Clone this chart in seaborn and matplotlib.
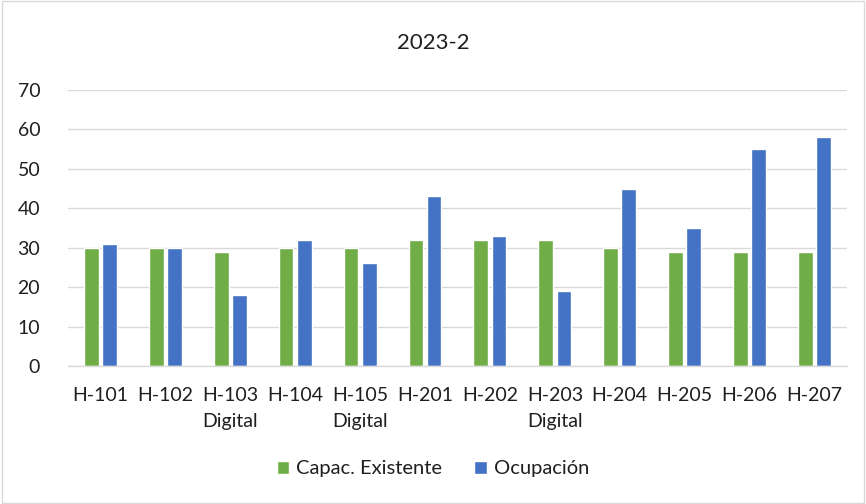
import matplotlib
matplotlib.use("Agg")
import matplotlib.pyplot as plt
import seaborn as sns
import pandas as pd

categories = ["H-101", "H-102", "H-103\nDigital", "H-104", "H-105\nDigital", "H-201",
              "H-202", "H-203\nDigital", "H-204", "H-205", "H-206", "H-207"]
capacidad = [30, 30, 29, 30, 30, 32, 32, 32, 30, 29, 29, 29]
ocupacion = [31, 30, 18, 32, 26, 43, 33, 19, 45, 35, 55, 58]
series_names = ["Capac. Existente", "Ocupación"]
colors = ["#70AD47", "#4472C4"]
title = "2023-2"
yticks = [0, 10, 20, 30, 40, 50, 60, 70]

df = pd.DataFrame({
    "Aula": categories * 2,
    "Valor": capacidad + ocupacion,
    "Serie": [series_names[0]] * len(categories) + [series_names[1]] * len(categories),
})

sns.set_theme(style="white")
plt.rcParams["font.family"] = ["Lato", "DejaVu Sans"]
txt_color = "#1f1f1f"

fig = plt.figure(figsize=(8.66, 5.04), dpi=100)
ax = fig.add_axes([0.0785, 0.2738, 0.8995, 0.5476])

sns.barplot(data=df, x="Aula", y="Valor", hue="Serie", palette=colors,
            width=0.56, gap=0.19, ax=ax, saturation=1, legend=True)

ax.set_ylim(0, 70)
ax.set_yticks(yticks)
ax.set_xlim(-0.5, len(categories) - 0.5)
ax.set_xlabel("")
ax.set_ylabel("")
ax.yaxis.grid(True, color="#D9D9D9", linewidth=1)
ax.set_axisbelow(True)
for s in ["left", "right", "top"]:
    ax.spines[s].set_visible(False)
ax.spines["bottom"].set_color("#D9D9D9")
ax.spines["bottom"].set_linewidth(1)
ax.tick_params(axis="both", length=0, labelsize=14, colors=txt_color)
ax.tick_params(axis="x", pad=15)
ax.tick_params(axis="y", pad=20)
for lbl in ax.get_xticklabels():
    lbl.set_linespacing(1.65)

fig.text(0.5, 0.915, title, ha="center", va="center", fontsize=16, color=txt_color)

sns.move_legend(ax, "center", bbox_to_anchor=(0.5, 0.07), bbox_transform=fig.transFigure,
                ncol=2, frameon=False, title=None, fontsize=14.5,
                handlelength=0.6, handleheight=0.6, handletextpad=0.35, columnspacing=1.6)
for t in ax.get_legend().get_texts():
    t.set_color(txt_color)

fig.patches.append(plt.Rectangle((0.002, 0.002), 0.996, 0.996, transform=fig.transFigure,
                                 fill=False, edgecolor="#D9D9D9", linewidth=1))

fig.savefig("out.png", dpi=100, facecolor="white")
